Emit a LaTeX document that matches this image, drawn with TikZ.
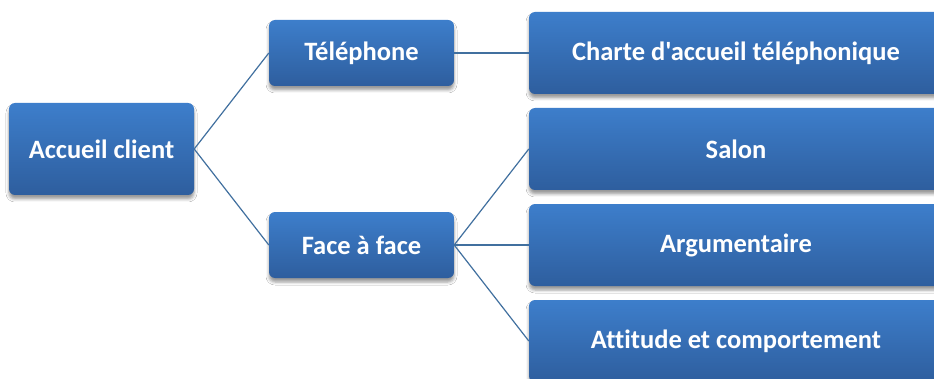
\documentclass[tikz,border=0pt]{standalone}
\usepackage{fontspec}
\newfontfamily\calfont{Carlito}[Ligatures=NoCommon]
\usetikzlibrary{shadows.blur}
\definecolor{boxtop}{HTML}{3D7ECB}
\definecolor{boxbot}{HTML}{2E5E9E}
\definecolor{linkc}{HTML}{41709F}
\tikzset{
  box/.style={rectangle, rounded corners=6pt, top color=boxtop, bottom color=boxbot,
    draw=none, text=white, font=\calfont\bfseries\fontsize{26.5}{30}\selectfont, align=center,
    inner sep=0pt,
    blur shadow={shadow xshift=0pt, shadow yshift=-4pt, shadow blur radius=3pt, shadow opacity=40}},
  link/.style={draw=linkc, line width=1.2pt}
}
\begin{document}
\begin{tikzpicture}[x=1pt,y=1pt]
\useasboundingbox (0,0) rectangle (934,378);
\clip (0,0) rectangle (934,378);
\fill[white] (0,0) rectangle (934,378);
\node[box, minimum width=185pt, minimum height=92pt] (acc) at (101.5,229) {Accueil client};
\node[box, minimum width=185pt, minimum height=66pt] (tel) at (361.5,325) {Téléphone};
\node[box, minimum width=185pt, minimum height=66pt] (face) at (361.5,133) {Face à face};
\node[box, minimum width=414pt, minimum height=82pt] (charte) at (736,325) {Charte d'accueil téléphonique};
\node[box, minimum width=414pt, minimum height=82pt] (salon) at (736,229) {Salon};
\node[box, minimum width=414pt, minimum height=82pt] (arg) at (736,133) {Argumentaire};
\node[box, minimum width=414pt, minimum height=82pt] (att) at (736,37) {Attitude et comportement};
\draw[link] (acc.east) -- (tel.west);
\draw[link] (acc.east) -- (face.west);
\draw[link] (tel.east) -- (charte.west);
\draw[link] (face.east) -- (salon.west);
\draw[link] (face.east) -- (arg.west);
\draw[link] (face.east) -- (att.west);
\end{tikzpicture}
\end{document}
